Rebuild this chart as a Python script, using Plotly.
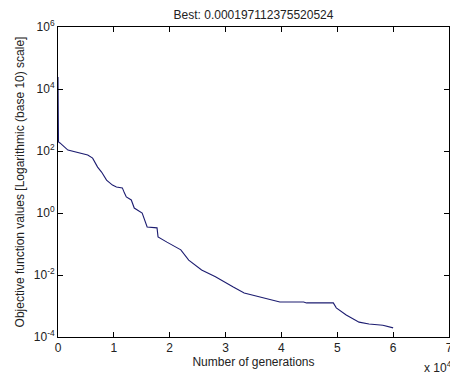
import plotly.graph_objects as go

# Data (generations, log10 of objective value)
generations = [0, 90, 350, 1770, 5320, 6200, 7090, 7800, 8690, 9750, 10460, 11520,
               11880, 12230, 13120, 13650, 15070, 15960, 17730, 17910, 19500, 21990,
               23400, 25710, 28190, 30000, 31380, 33330, 36170, 37940, 39720, 43970,
               44500, 49290, 49820, 51600, 53900, 55670, 58160, 60000]
log_values = [4.39, 2.29, 2.26, 2.03, 1.87, 1.77, 1.48, 1.32, 1.06, 0.90, 0.84, 0.81,
              0.65, 0.52, 0.42, 0.16, 0.0, -0.45, -0.48, -0.77, -0.94, -1.19,
              -1.52, -1.84, -2.06, -2.26, -2.39, -2.58, -2.71, -2.8, -2.87, -2.87,
              -2.9, -2.9, -3.06, -3.29, -3.52, -3.58, -3.62, -3.705]
objective = [10 ** v for v in log_values]

x_tickvals = [0, 10000, 20000, 30000, 40000, 50000, 60000, 70000]
x_ticktext = ["0", "1", "2", "3", "4", "5", "6", "7"]
y_tickvals = [1e-4, 1e-2, 1, 1e2, 1e4, 1e6]
y_ticktext = ["10<sup>-4</sup>", "10<sup>-2</sup>", "10<sup>0</sup>",
              "10<sup>2</sup>", "10<sup>4</sup>", "10<sup>6</sup>"]

font_family = "Liberation Sans, Arial, sans-serif"

# The page body has an 8px margin, so the figure is 8px smaller each way
W, H = 450, 368

fig = go.Figure()
fig.add_trace(go.Scatter(x=generations, y=objective, mode="lines",
                         line=dict(color="#1c1c70", width=1.1),
                         showlegend=False))

fig.update_layout(
    width=W, height=H,
    margin=dict(l=50, r=5, t=19, b=39),
    paper_bgcolor="white", plot_bgcolor="white",
    font=dict(family=font_family, size=12, color="#222"),
    title=dict(text="Best: 0.000197112375520524", x=0.5, xref="paper", xanchor="center",
               y=1 - 7 / H, yref="container", yanchor="middle",
               font=dict(size=12, color="#222")),
)
fig.update_xaxes(range=[0, 70000], tickvals=x_tickvals, ticktext=x_ticktext,
                 ticks="inside", ticklen=5, tickcolor="black",
                 showline=True, linecolor="black", linewidth=1, mirror="ticks",
                 showgrid=False, zeroline=False, ticklabeloverflow="allow",
                 title=dict(text="Number of generations", standoff=0,
                            font=dict(size=12)),
                 tickfont=dict(size=12))
fig.update_yaxes(type="log", range=[-4, 6], tickvals=y_tickvals, ticktext=y_ticktext,
                 ticks="inside", ticklen=5, tickcolor="black",
                 showline=True, linecolor="black", linewidth=1, mirror="ticks",
                 showgrid=False, zeroline=False,
                 title=dict(text="Objective function values [Logarithmic (base 10) scale]",
                            standoff=6, font=dict(size=12)),
                 tickfont=dict(size=12))
fig.add_annotation(text="x 10<sup>4</sup>", xref="paper", yref="paper",
                   x=1.01, y=-0.125, xanchor="right", yanchor="bottom",
                   borderpad=0, showarrow=False, font=dict(size=12, color="#222"))

fig.write_html("out.html")
